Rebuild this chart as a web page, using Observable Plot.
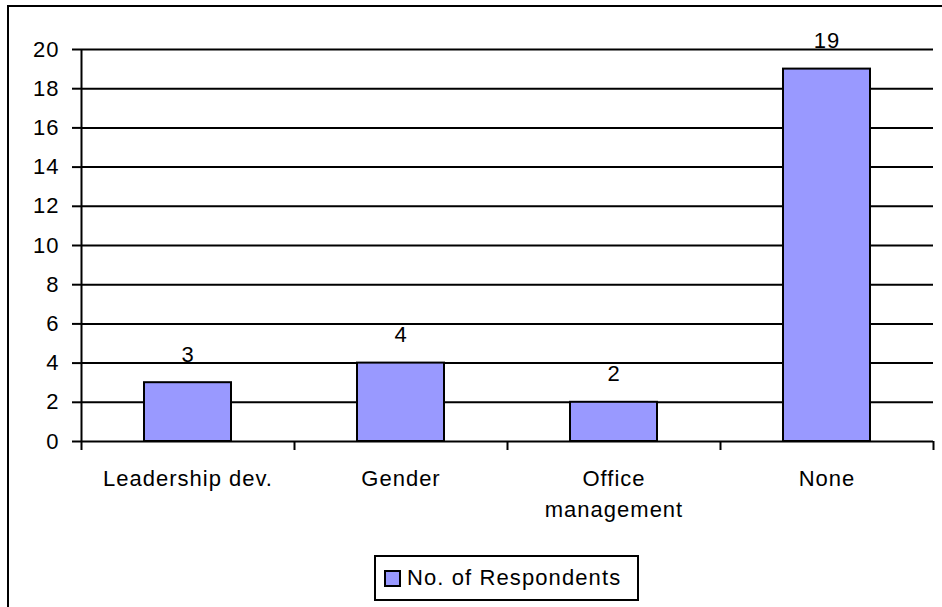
<!DOCTYPE html>
<html>
<head>
<meta charset="utf-8">
<script src="https://cdn.jsdelivr.net/npm/d3@7"></script>
<script src="https://cdn.jsdelivr.net/npm/@observablehq/plot@0.6"></script>
<style>
  html, body { margin: 0; padding: 0; background: white; overflow: hidden; width: 942px; height: 607px; }
  #wrap { position: relative; width: 942px; height: 607px; }
  #border { position: absolute; left: 7px; top: 5px; width: 1000px; height: 700px; border: 2px solid black; box-sizing: border-box; pointer-events: none; }
  #chart { position: absolute; left: 0; top: 0; }
  #chart svg text { letter-spacing: 1px; }
  #legend { position: absolute; left: 374px; top: 555px; width: 265px; height: 46px; border: 2px solid black; box-sizing: border-box; background: white;
            font-family: "Liberation Sans", Arial, sans-serif; font-size: 22px; letter-spacing: 1.1px; display: flex; align-items: center; }
  #legend .sw { width: 17px; height: 17px; border: 2px solid black; box-sizing: border-box; background: #9999FF; margin-left: 8px; margin-right: 6px; }
</style>
</head>
<body>
<div id="wrap">
  <div id="chart"></div>
  <div id="border"></div>
  <div id="legend"><div class="sw"></div><span id="legend-label"></span></div>
</div>
<script>
const categories = ["Leadership dev.", "Gender", "Office\nmanagement", "None"];
const respondents = [3, 4, 2, 19];
const yTicks = [0, 2, 4, 6, 8, 10, 12, 14, 16, 18, 20];
const seriesName = "No. of Respondents";
const barColor = "#9999FF";

const data = categories.map((c, i) => ({category: c, i, value: respondents[i]}));
const boundaries = d3.range(categories.length + 1);

const chart = Plot.plot({
  width: 942,
  height: 545,
  marginLeft: 81,
  marginRight: 9,
  marginTop: 49,
  marginBottom: 104,
  x: {domain: [0, categories.length], axis: null},
  y: {domain: [0, 20], axis: null},
  style: {fontFamily: "'Liberation Sans', Arial, sans-serif", fontSize: "22px", color: "black", background: "white", overflow: "visible"},
  marks: [
    Plot.ruleY(yTicks, {stroke: "black", strokeWidth: 2}),
    Plot.axisY({ticks: yTicks, label: null, tickSize: 9, tickPadding: 13, stroke: "black", strokeWidth: 2, strokeOpacity: 1, tickFormat: d => String(d), fontSize: 22}),
    Plot.axisX({ticks: boundaries, label: null, tickSize: 9, stroke: "black", strokeWidth: 2, strokeOpacity: 1, tickFormat: () => ""}),
    Plot.ruleX([0], {stroke: "black", strokeWidth: 2}),
    Plot.rectY(data, {x1: d => d.i, x2: d => d.i + 1, y: "value", insetLeft: 63, insetRight: 63, fill: barColor, stroke: "black", strokeWidth: 2}),
    Plot.text(data, {x: d => d.i + 0.5, y: "value", text: d => String(d.value), lineAnchor: "bottom", dy: -21, fontSize: 22, fill: "black"}),
    Plot.text(data, {x: d => d.i + 0.5, y: () => 0, text: "category", lineAnchor: "top", dy: 23, lineHeight: 1.4, fontSize: 22, fill: "black"})
  ]
});
document.getElementById("chart").appendChild(chart);
document.getElementById("legend-label").textContent = seriesName;
</script>
</body>
</html>
